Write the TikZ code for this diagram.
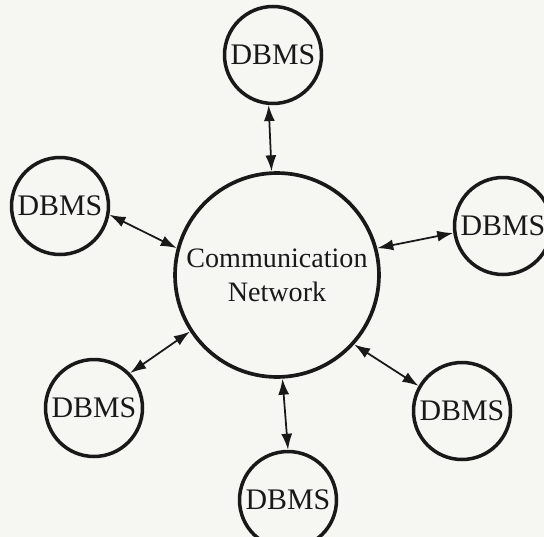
\documentclass[tikz,border=0pt]{standalone}
\usepackage{fontspec}
\setmainfont{Liberation Serif}
\usepackage{tikz}
\usetikzlibrary{arrows.meta}
\definecolor{paper}{RGB}{246,246,243}
\definecolor{ink}{RGB}{25,25,25}

\begin{document}
\begin{tikzpicture}[x=0.02cm, y=-0.02cm,
    site/.style={circle, draw=ink, line width=2pt, minimum size=1.94cm, inner sep=0pt,
      font=\fontsize{17}{18}\selectfont, text=ink},
    hub/.style={circle, draw=ink, line width=2.1pt, minimum size=4.08cm, inner sep=0pt,
      align=center, font=\fontsize{16}{19.5}\selectfont, text=ink},
    link/.style={{Latex[length=3.2mm,width=2.2mm]}-{Latex[length=3.2mm,width=2.2mm]}, ink, line width=1pt}]
  \fill[paper] (0,0) rectangle (544,537);
  \useasboundingbox (0,0) rectangle (544,537);
  % network in the middle
  \node[hub] (net) at (277,275) {Communication\\Network};
  % database sites around it
  \node[site] (top) at (273,55) {DBMS};
  \node[site] (left) at (60,206) {DBMS};
  \node[site] (right) at (503,226) {DBMS};
  \node[site] (botleft) at (94,408) {DBMS};
  \node[site] (botright) at (462,411) {DBMS};
  \node[site] (bot) at (288,500) {DBMS};
  % two-way links
  \draw[link] (top.265) -- (net.93);
  \draw[link] (left.-10) -- (net.165);
  \draw[link] (right.188) -- (net.15);
  \draw[link] (botleft.44) -- (net.213);
  \draw[link] (botright.150) -- (net.-42);
  \draw[link] (bot.90) -- (net.-87);
\end{tikzpicture}
\end{document}
